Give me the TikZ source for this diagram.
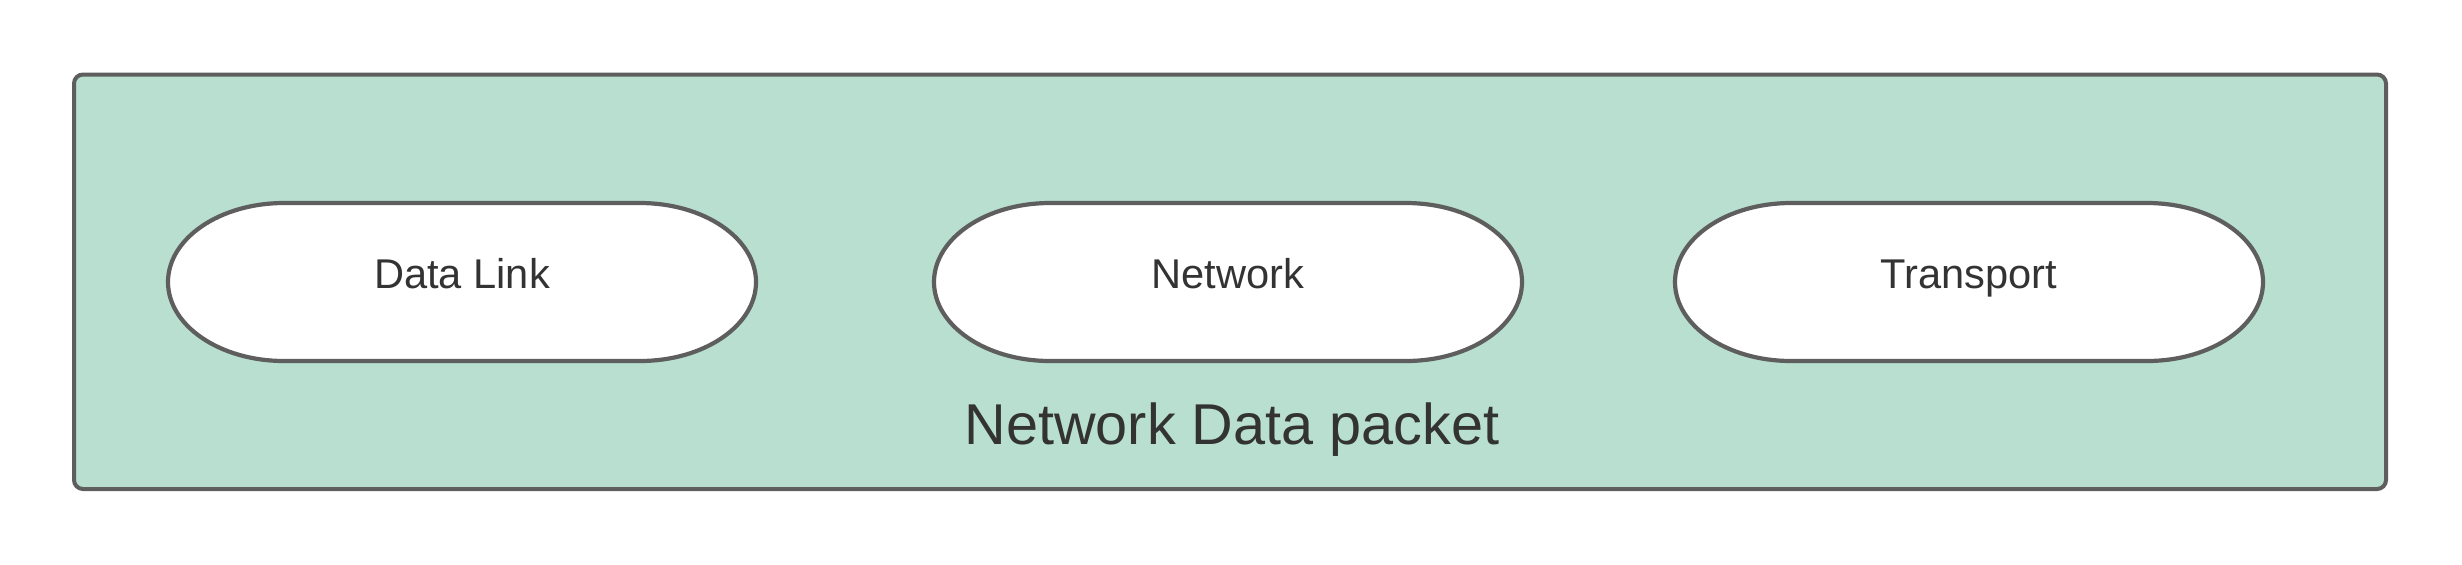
\documentclass[tikz,border=0pt]{standalone}
\usepackage{fontspec}
\setmainfont{Liberation Sans}
\definecolor{boxfill}{HTML}{B8DFD0}
\definecolor{edge}{HTML}{5E5E5E}
\definecolor{txt}{HTML}{333333}
\tikzset{
  outerbox/.style={draw=edge, fill=boxfill, line width=2pt, rounded corners=4.5pt},
  pill/.style={draw=edge, fill=white, line width=2.1pt},
  pilltext/.style={text=txt, font=\fontsize{20.8pt}{24pt}\selectfont, anchor=base, inner sep=0pt},
  titletext/.style={text=txt, font=\fontsize{28.8pt}{34pt}\selectfont, anchor=base, inner sep=0pt}
}
\newcommand{\pillpath}[1]{%
  \draw[pill] (#1-178,203) -- (#1+178,203) arc[start angle=90, end angle=-90, x radius=58pt, y radius=39.5pt]
    -- (#1-178,361) arc[start angle=270, end angle=90, x radius=58pt, y radius=39.5pt] -- cycle;}
\begin{document}
\begin{tikzpicture}[x=0.5pt, y=-0.5pt]
\useasboundingbox (0,0) rectangle (2462,564);
\draw[outerbox] (74,74.5) rectangle (2386,489);
\pillpath{462}
\pillpath{1228}
\pillpath{1969}
\node[pilltext] (dl) at (462,288) {Data Link};
\node[pilltext] (nw) at (1228,288) {Network};
\node[pilltext] (tp) at (1969,288) {Transport};
\node[titletext] (title) at (1232,444) {Network Data packet};
\end{tikzpicture}
\end{document}
